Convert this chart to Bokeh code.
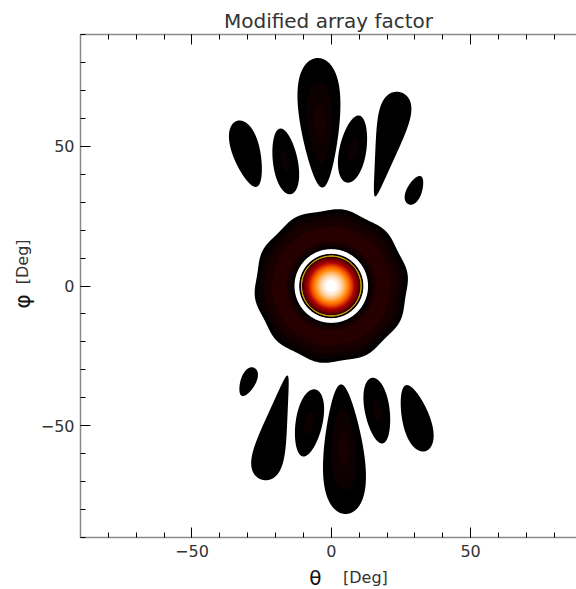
import numpy as np
from bokeh.plotting import figure
from bokeh.layouts import row, column
from bokeh.models import FixedTicker, LinearAxis, Range1d
from bokeh.core.properties import value
from bokeh.embed import file_html
from bokeh.resources import INLINE

# ---------------------------------------------------------------------------
# Pattern description (angles in degrees, levels in dB)
# ---------------------------------------------------------------------------
# Sidelobes: centre, half-length along the lobe axis, half-width, tilt of the
# axis from vertical (+ = upper end leans to +theta), taper of the width along
# the axis (+ = wider towards the +phi end) and peak level.
lobe_theta = [-30.3, -16.5, -4.1, 7.8, 20.2, 29.9,
              30.3, 16.5, 4.4, -8.0, -20.2, -29.9]
lobe_phi = [47.3, 44.6, 58.4, 49.0, 50.7, 34.3,
            -47.3, -44.6, -58.4, -49.0, -50.7, -34.3]
lobe_half_len = [12.3, 11.9, 23.2, 12.2, 19.2, 5.5,
                 12.3, 11.9, 23.2, 12.2, 19.2, 5.5]
lobe_half_wid = [4.9, 4.45, 7.1, 4.8, 4.36, 2.7,
                 4.9, 4.45, 7.1, 4.8, 4.36, 2.7]
lobe_tilt = [-16.6, -9.3, -2.3, 10.6, 13.5, 23.8,
             -16.6, -9.3, -2.3, 10.6, 13.5, 23.8]
lobe_taper = [0.23, -0.1, 0.41, -0.1, 0.82, -0.2,
              -0.23, 0.1, -0.41, 0.1, -0.82, 0.2]
lobe_peak_db = [-29.4, -28.5, -27.3, -28.5, -29.4, -29.5,
                -29.4, -28.5, -27.3, -28.5, -29.4, -29.5]

# Main beam: radius at the lowest plotted level
main_edge_deg = 11.5
main_marker_db = -26.0          # contour drawn in yellow on the main beam

# First sidelobe ring around the main beam
ring_inner_deg = 13.2
ring_peak_deg = 17.5
ring_outer_deg = 27.3
ring_peak_db = -26.5
ring_wobble_deg = 0.4
ring_wobble_count = 10
ring_wobble_phase_deg = 9.0

# Filled contour levels
level_min_db = -30.0
level_max_db = 0.0
level_step_db = 1.0

# Axes
x_start, x_end = -90.0, 88.0
y_start, y_end = -90.0, 90.0
major_ticks = [-50, 0, 50]
minor_ticks = list(range(-90, 91, 10))
tick_text = {-50: "\u221250", 0: "0", 50: "50"}

title_text = "Modified array factor"
x_symbol, y_symbol, unit_text = "\u03b8", "\u03c6", "[Deg]"

# ---------------------------------------------------------------------------
# Build the pattern on a grid
# ---------------------------------------------------------------------------
th = np.arange(-45.0, 45.0001, 0.2)
ph = np.arange(-88.0, 88.0001, 0.2)
TH, PH = np.meshgrid(th, ph)
floor_db = -60.0

r = np.hypot(TH, PH)
psi = np.arctan2(PH, TH)

main_db = level_min_db * (r / main_edge_deg) ** 2
field = np.maximum(np.full(TH.shape, floor_db), main_db)

r_out = ring_outer_deg + ring_wobble_deg * np.cos(
    ring_wobble_count * (psi - np.radians(ring_wobble_phase_deg)))
t_ring = np.where(r < ring_peak_deg,
                  (r - ring_peak_deg) / (ring_peak_deg - ring_inner_deg),
                  (r - ring_peak_deg) / (r_out - ring_peak_deg))
ring_db = level_min_db + (ring_peak_db - level_min_db) * (1.0 - t_ring ** 2)
field = np.maximum(field, ring_db)

for xc, yc, hl, hw, tilt, taper, pk in zip(lobe_theta, lobe_phi, lobe_half_len,
                                          lobe_half_wid, lobe_tilt, lobe_taper,
                                          lobe_peak_db):
    tau = np.radians(tilt)
    dx, dy = TH - xc, PH - yc
    v = dx * np.sin(tau) + dy * np.cos(tau)
    u = dx * np.cos(tau) - dy * np.sin(tau)
    t = v / hl
    a = hw * np.exp(taper * t)
    q = np.sqrt((u / a) ** 2 + t ** 2)
    lobe_db = level_min_db + (pk - level_min_db) * (1.0 - q)
    field = np.maximum(field, lobe_db)

field = np.maximum(field, floor_db)


# "Red temperature" colour table
def red_temperature(i):
    rr = int(min(255, round(i * 255 / 176)))
    gg = int(min(255, max(0, round((i - 120) * 255 / 135))))
    bb = int(min(255, max(0, round((i - 190) * 255 / 65))))
    return "#%02x%02x%02x" % (rr, gg, bb)


levels = list(np.arange(level_min_db, level_max_db, level_step_db))
n_bands = len(levels)
palette = [red_temperature(k * 255 / (n_bands - 1)) for k in range(n_bands)]
top_db = float(field.max()) + 1.0

# ---------------------------------------------------------------------------
# Layout geometry (pixels)
# ---------------------------------------------------------------------------
total_w, total_h = 576, 589
ylab_w = 36
frame_left, frame_top, frame_bottom = 80, 34, 537
xlab_h = 26
main_h = total_h - xlab_h
px_per_deg_x = (total_w - frame_left) / (x_end - x_start)
px_per_deg_y = (frame_bottom - frame_top) / (y_end - y_start)
label_font = "DejaVu Sans"

# ---------------------------------------------------------------------------
# Main contour figure
# ---------------------------------------------------------------------------
p = figure(width=total_w - ylab_w, height=main_h,
           x_range=Range1d(x_start, x_end), y_range=Range1d(y_start, y_end),
           toolbar_location=None, output_backend="svg",
           min_border_left=frame_left - ylab_w, min_border_right=0,
           min_border_top=frame_top, min_border_bottom=main_h - frame_bottom)
p.outline_line_color = None
p.background_fill_color = "white"
p.border_fill_color = "white"
p.xgrid.visible = False
p.ygrid.visible = False

p.title.text = title_text
p.title.align = "center"
p.title.text_font = label_font
p.title.text_font_size = "20px"
p.title.text_font_style = "normal"
p.title.text_color = "#333333"
p.title.standoff = 4

# Nested (overlapping) fills: each level region is painted over the previous
for lvl, col in zip(levels, palette):
    p.contour(th, ph, field, [lvl, top_db], fill_color=col, line_color=None)
p.contour(th, ph, main_db, [main_marker_db, main_marker_db + 0.001],
          line_color="#d6c400", line_width=1.0)


def style_axis(ax):
    ax.ticker = FixedTicker(ticks=major_ticks, minor_ticks=minor_ticks)
    ax.major_label_overrides = tick_text
    ax.axis_line_color = "#8a8a8a"
    ax.axis_line_width = 1.5
    ax.major_tick_line_color = "black"
    ax.minor_tick_line_color = "black"
    ax.major_tick_in = 10
    ax.major_tick_out = 0
    ax.minor_tick_in = 5
    ax.minor_tick_out = 0
    ax.major_label_text_font = label_font
    ax.major_label_text_font_size = "16px"
    ax.major_label_text_color = "#333333"


style_axis(p.xaxis[0])
p.xaxis[0].major_label_standoff = 7
style_axis(p.yaxis[0])
p.yaxis[0].major_label_standoff = 6

# Top edge: ticks only, no numbers
top_axis = LinearAxis()
style_axis(top_axis)
top_axis.major_label_text_font_size = "1px"
top_axis.major_label_text_color = None
top_axis.major_label_standoff = 0
p.add_layout(top_axis, "above")

# ---------------------------------------------------------------------------
# Axis titles: symbol and unit in different sizes
# ---------------------------------------------------------------------------
zero_x_px = frame_left - x_start * px_per_deg_x
zero_y_px = frame_top + y_end * px_per_deg_y


def bare_figure(w, h, xr, yr):
    f = figure(width=w, height=h, x_range=xr, y_range=yr,
               toolbar_location=None, output_backend="svg",
               x_axis_type=None, y_axis_type=None, min_border=0)
    f.outline_line_color = None
    f.xgrid.visible = False
    f.ygrid.visible = False
    f.background_fill_color = "white"
    f.border_fill_color = "white"
    return f


# x title strip: theta in degrees across, pixel rows down
xlab = bare_figure(total_w, xlab_h,
                   Range1d(-zero_x_px / px_per_deg_x,
                           (total_w - zero_x_px) / px_per_deg_x),
                   Range1d(xlab_h, 0))
xlab.text(x=[-5.7], y=[14], text=[x_symbol], text_align="center",
          text_baseline="middle", text_font=value(label_font),
          text_font_size="20px", text_color="#111111")
xlab.text(x=[4.2], y=[13.5], text=[unit_text], text_align="left",
          text_baseline="middle", text_font=value(label_font),
          text_font_size="16px", text_color="#333333")

# y title strip: pixel columns across, phi in degrees up
ylab = bare_figure(ylab_w, main_h, Range1d(0, ylab_w),
                   Range1d((zero_y_px - main_h) / px_per_deg_y,
                           zero_y_px / px_per_deg_y))
ylab.text(x=[22], y=[-4.8], text=[y_symbol], text_align="center",
          text_baseline="middle", text_font=value(label_font),
          text_font_size="22px", text_color="#111111", angle=np.pi / 2)
ylab.text(x=[21.5], y=[11.1], text=[unit_text], text_align="center",
          text_baseline="middle", text_font=value(label_font),
          text_font_size="16px", text_color="#333333", angle=np.pi / 2)

layout = column(row(ylab, p, spacing=0), xlab, spacing=0)

open("out.html", "w").write(file_html(layout, INLINE))
